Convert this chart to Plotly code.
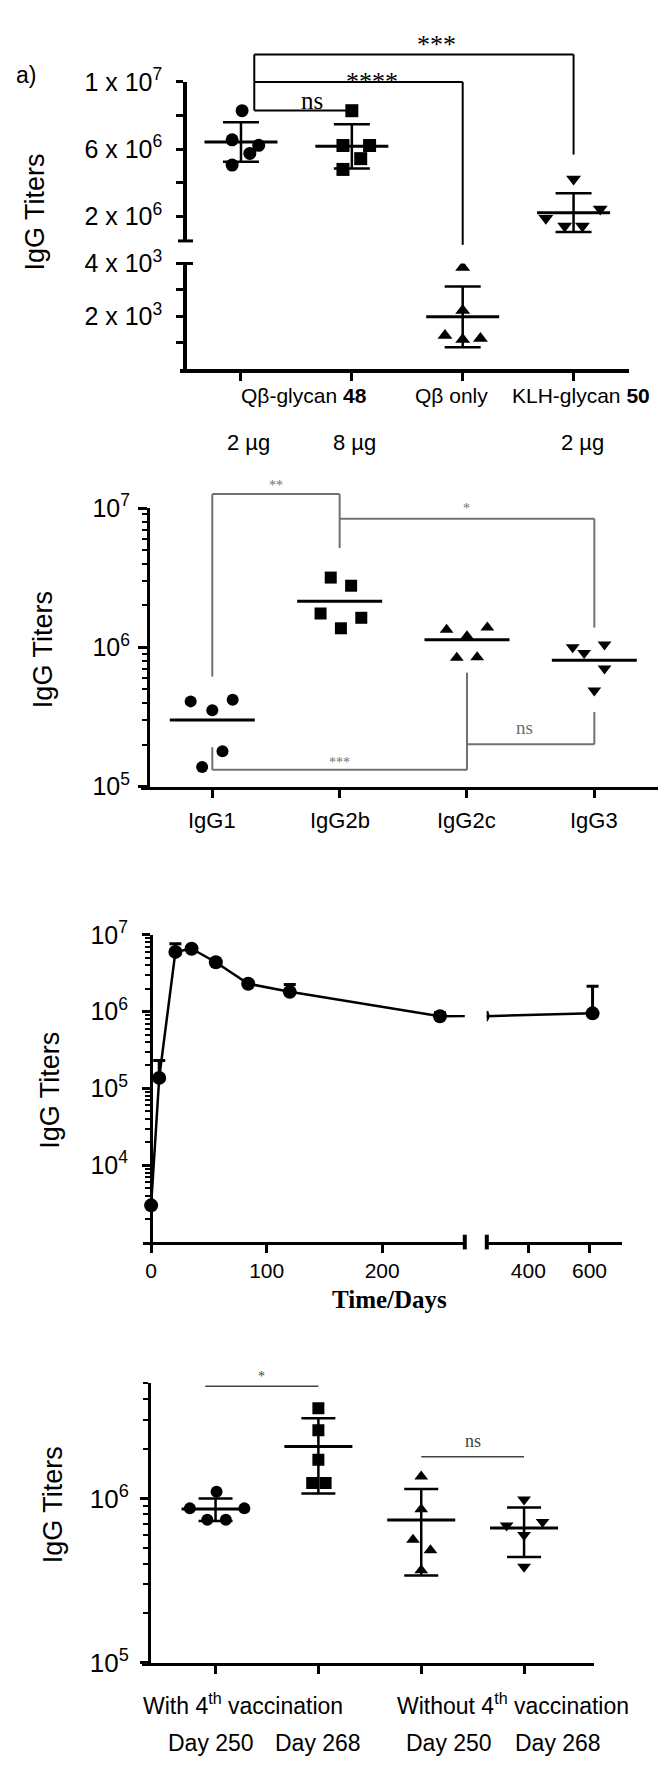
import plotly.graph_objects as go

W, H = 666, 1768

# ---------------- a) total IgG, broken linear axis
a_groups = ["Qβ-glycan 48, 2 µg", "Qβ-glycan 48, 8 µg", "Qβ only", "KLH-glycan 50, 2 µg"]
a_titers = [
    [8.29e6, 6.56e6, 6.23e6, 5.75e6, 5.06e6],
    [8.29e6, 6.22e6, 6.22e6, 5.44e6, 4.80e6],
    [3850, 2230, 1280, 1130, 1170],
    [4.23e6, 2.44e6, 1.89e6, 1.43e6, 1.43e6],
]
a_jitter = [
    [0.01, -0.08, 0.16, 0.08, -0.08],
    [0.0, -0.08, 0.16, 0.08, -0.08],
    [0.0, 0.0, -0.16, 0.0, 0.16],
    [0.0, 0.24, -0.25, -0.08, 0.08],
]
a_mean = [6.43e6, 6.17e6, 1985, 2.23e6]
a_sd = [1.17e6, 1.31e6, 1150, 1.15e6]
a_names = ["Qβ-glycan <b>48</b>", "Qβ only", "KLH-glycan <b>50</b>"]
a_doses = ["2 µg", "8 µg", "2 µg"]

# ---------------- b) IgG subclasses
b_subclass = ["IgG1", "IgG2b", "IgG2c", "IgG3"]
b_titers = [
    [4.09e5, 3.53e5, 4.20e5, 1.79e5, 1.38e5],
    [3.17e6, 2.77e6, 1.75e6, 1.63e6, 1.37e6],
    [1.34e6, 1.20e6, 1.39e6, 8.4e5, 8.5e5],
    [1.00e6, 9.1e5, 1.05e6, 7.05e5, 4.9e5],
]
b_jitter = [
    [-0.17, 0.0, 0.16, 0.08, -0.08],
    [-0.07, 0.09, -0.15, 0.17, 0.01],
    [-0.16, 0.0, 0.16, -0.08, 0.08],
    [-0.17, -0.08, 0.08, 0.08, 0.0],
]
b_mean = [3.0e5, 2.14e6, 1.135e6, 8.07e5]

# ---------------- c) time course
c_days = [0, 7, 21, 35, 56, 84, 120, 250, 610]
c_titer = [2.99e3, 1.37e5, 6.0e6, 6.6e6, 4.4e6, 2.31e6, 1.81e6, 8.7e5, 9.5e5]
c_err_up = [0, 9.4e4, 1.66e6, 3.0e5, 2.0e5, 1.5e5, 4.4e5, 1.0e5, 1.19e6]

# ---------------- d) with / without 4th vaccination
d_groups = ["With 4<sup>th</sup> vaccination", "Without 4<sup>th</sup> vaccination"]
d_days = ["Day 250", "Day 268", "Day 250", "Day 268"]
d_titers = [
    [1.097e6, 8.7e5, 8.7e5, 7.41e5, 7.41e5],
    [3.53e6, 2.60e6, 1.72e6, 1.24e6, 1.24e6],
    [1.36e6, 8.6e5, 5.6e5, 4.84e5, 3.66e5],
    [9.86e5, 6.84e5, 7.2e5, 6.0e5, 3.84e5],
]
d_jitter = [
    [0.01, -0.25, 0.28, -0.08, 0.10],
    [0.0, 0.0, 0.0, -0.06, 0.07],
    [0.0, 0.0, -0.08, 0.09, 0.0],
    [0.0, -0.17, 0.18, 0.0, 0.0],
]
d_mean = [8.63e5, 2.07e6, 7.4e5, 6.6e5]
d_sd = [1.35e5, 1.0e6, 4.0e5, 2.2e5]

SYMBOLS = ["circle", "square", "triangle-up", "triangle-down"]
SANS = "Liberation Sans, Arial, sans-serif"
SERIF = "Liberation Serif, Times New Roman, serif"


def fx(p):
    return p / W


def fy(p):
    return 1 - p / H


fig = go.Figure()


def dots(xa, ya, i, vals, jit, size=12):
    fig.add_trace(go.Scatter(
        x=[i + j for j in jit], y=vals, xaxis=xa, yaxis=ya, mode="markers",
        marker=dict(symbol=SYMBOLS[i], size=size, color="black", line=dict(width=0)),
        hoverinfo="skip", showlegend=False))


def mean_bar(xa, ya, i, mean, sd, length, cap):
    err = dict(type="data", array=[sd], width=cap, thickness=2.5, color="black") if sd else None
    fig.add_trace(go.Scatter(
        x=[i], y=[mean], xaxis=xa, yaxis=ya, mode="markers",
        marker=dict(symbol="line-ew", size=length / 1.4, line=dict(width=3, color="black")),
        error_y=err, hoverinfo="skip", showlegend=False))


def seg(xref, x0, x1, y0, y1, color="black", width=2):
    if xref == "paper":
        x0, x1 = fx(x0), fx(x1)
    fig.add_shape(type="line", xref=xref, yref="paper", x0=x0, x1=x1,
                  y0=fy(y0), y1=fy(y1), line=dict(color=color, width=width))


def text(s, x, y, xref="paper", size=20, family=SANS, color="black", angle=0):
    if xref == "paper":
        x = fx(x)
    fig.add_annotation(text=s, x=x, y=fy(y), xref=xref, yref="paper", showarrow=False,
                       xanchor="center", yanchor="middle", textangle=angle,
                       font=dict(family=family, size=size, color=color))


# ---- panel a
for i in range(4):
    ya = "y2" if i == 2 else "y"
    dots("x", ya, i, a_titers[i], a_jitter[i], size=13)
    mean_bar("x", ya, i, a_mean[i], a_sd[i], 73, 18)

# ---- panel b
for i in range(4):
    dots("x2", "y3", i, b_titers[i], b_jitter[i], size=12)
    mean_bar("x2", "y3", i, b_mean[i], None, 85, 0)

# ---- panel c (drawn on both halves of the broken x axis)
for xa in ["x3", "x4"]:
    fig.add_trace(go.Scatter(
        x=c_days, y=c_titer, xaxis=xa, yaxis="y4", mode="lines+markers",
        line=dict(color="black", width=2.5),
        marker=dict(symbol="circle", size=14, color="black"),
        error_y=dict(type="data", symmetric=False, array=c_err_up,
                     arrayminus=[0] * len(c_days), width=6, thickness=3, color="black"),
        hoverinfo="skip", showlegend=False))

# ---- panel d
for i in range(4):
    dots("x5", "y5", i, d_titers[i], d_jitter[i], size=12)
    mean_bar("x5", "y5", i, d_mean[i], d_sd[i], 68, 17)


def ax(**kw):
    base = dict(showgrid=False, zeroline=False, showline=True, linecolor="black",
                linewidth=3, ticks="outside", tickcolor="black", tickwidth=2.5, ticklen=8,
                tickfont=dict(family=SANS, size=20, color="black"))
    base.update(kw)
    return base


def minor(vals):
    return dict(tickvals=vals, ticks="outside", ticklen=5, tickwidth=2, tickcolor="black")


def sup(e):
    return "10<sup>%d</sup>" % e


def tf(size):
    return dict(family=SANS, size=size, color="black")


fig.update_layout(
    width=W, height=H, autosize=False, margin=dict(l=0, r=0, t=0, b=0),
    paper_bgcolor="white", plot_bgcolor="white", showlegend=False,
    font=dict(family=SANS, color="black"),
    # a
    xaxis=ax(domain=[fx(172), fx(621)], range=[-0.55, 3.5], anchor="y2",
             tickvals=[0, 1, 2, 3], showticklabels=False, linewidth=3.5, tickwidth=3),
    yaxis=ax(domain=[fy(219), fy(57)], range=[5.5e5, 1.0e7], anchor="free", position=fx(177),
             tickvals=[2e6, 4e6, 6e6, 8e6, 1e7],
             ticktext=["2 x 10<sup>6</sup>", "", "6 x 10<sup>6</sup>", "", "1 x 10<sup>7</sup>"],
             linewidth=3.5, ticklen=7, tickwidth=3, ticklabelstandoff=9, tickfont=tf(25)),
    yaxis2=ax(domain=[fy(350), fy(242)], range=[0, 4000], anchor="free", position=fx(177),
              tickvals=[1000, 2000, 3000, 4000],
              ticktext=["", "2 x 10<sup>3</sup>", "", "4 x 10<sup>3</sup>"],
              linewidth=3.5, ticklen=7, tickwidth=3, ticklabelstandoff=9, tickfont=tf(25)),
    # b
    xaxis2=ax(domain=[fx(133), fx(650)], range=[-0.56, 3.5], anchor="y3",
              tickvals=[0, 1, 2, 3], showticklabels=False),
    yaxis3=ax(type="log", domain=[fy(775), fy(491)], range=[5, 7.002], anchor="free",
              position=fx(140), tickvals=[1e5, 1e6, 1e7], ticktext=[sup(5), sup(6), sup(7)],
              ticklen=9, ticklabelstandoff=3, tickfont=tf(25),
              minor=minor([m * 10 ** e for e in (5, 6) for m in range(2, 10)])),
    # c
    xaxis3=ax(domain=[fx(134.7), fx(456.8)], range=[-7.3, 271.5], anchor="y4",
              tickvals=[0, 100, 200], tickfont=tf(21)),
    xaxis4=ax(domain=[fx(478.8), fx(613.6)], range=[264, 705], anchor="y4",
              tickvals=[400, 600], tickfont=tf(21)),
    yaxis4=ax(type="log", domain=[fy(1239), fy(926)], range=[3, 7.002], anchor="free",
              position=fx(143), tickvals=[1e4, 1e5, 1e6, 1e7],
              ticktext=[sup(4), sup(5), sup(6), sup(7)], ticklabelstandoff=9, tickfont=tf(25),
              minor=minor([m * 10 ** e for e in (3, 4, 5, 6) for m in range(2, 10)])),
    # d
    xaxis5=ax(domain=[fx(133.5), fx(586)], range=[-0.72, 3.68], anchor="y5",
              tickvals=[0, 1, 2, 3], showticklabels=False),
    yaxis5=ax(type="log", domain=[fy(1668), fy(1383.3)], range=[5, 6.699], anchor="free",
              position=fx(141), tickvals=[1e5, 1e6], ticktext=[sup(5), sup(6)],
              ticklabelstandoff=6, tickfont=tf(26),
              minor=minor([m * 1e5 for m in range(2, 10)] + [m * 1e6 for m in range(2, 6)])),
)

# ---- panel a decorations
text("a)", 18, 50, size=23)
text("IgG Titers", 27, 190, size=27, angle=-90)
seg("paper", 170, 185, 219, 219, width=3)
seg("paper", 170, 185, 242, 242, width=3)
seg("x", 0.12, 0.12, 29, 86)
seg("x", 0.12, 3.0, 29, 29)
seg("x", 3.0, 3.0, 29, 131)
seg("x", 0.12, 2.0, 57, 57)
seg("x", 2.0, 2.0, 57, 223)
seg("x", 0.12, 1.0, 86, 86)
text("***", 1.76, 19, xref="x", size=26, family=SERIF)
text("****", 1.18, 57, xref="x", size=26, family=SERIF)
text("ns", 0.64, 76, xref="x", size=25, family=SERIF)
for s, x in zip(a_names, [0.57, 1.9, 3.07]):
    text(s, x, 377, xref="x", size=21)
for s, x in zip(a_doses, [0.07, 1.02, 3.08]):
    text(s, x, 424, xref="x", size=22)

# ---- panel b decorations
GREY = "#707070"
text("IgG Titers", 35, 636, size=27, angle=-90)
seg("x2", 0, 0, 477, 663, GREY)
seg("x2", 0, 1, 477, 477, GREY)
seg("x2", 1, 1, 477, 532, GREY)
seg("x2", 1, 3, 502, 502, GREY)
seg("x2", 3, 3, 502, 613, GREY)
seg("x2", 0, 0, 735, 758, GREY)
seg("x2", 0, 2, 758, 758, GREY)
seg("x2", 2, 2, 659, 758, GREY)
seg("x2", 2, 3, 732, 732, GREY)
seg("x2", 3, 3, 699, 732, GREY)
text("**", 0.5, 468, xref="x2", size=14, family=SERIF, color=GREY)
text("*", 2.0, 492, xref="x2", size=14, family=SERIF, color=GREY)
text("***", 1.0, 751, xref="x2", size=14, family=SERIF, color=GREY)
text("ns", 2.45, 715, xref="x2", size=19, family=SERIF, color=GREY)
for i, s in enumerate(b_subclass):
    text(s, i, 810, xref="x2", size=22)

# ---- panel c decorations
text("IgG Titers", 42, 1084, size=27, angle=-90)
seg("paper", 456.8, 456.8, 1231.7, 1246.7, width=4)
seg("paper", 478.8, 478.8, 1231.7, 1246.7, width=4)
text("<b>Time/Days</b>", 382, 1298, size=25, family=SERIF)

# ---- panel d decorations
DGREY = "#444444"
text("IgG Titers", 44.5, 1507, size=27, angle=-90)
seg("x5", -0.1, 1.0, 1386, 1386, DGREY, 1.5)
seg("x5", 2.0, 3.0, 1458, 1458, DGREY, 1.5)
text("*", 0.45, 1376, xref="x5", size=14, family=SERIF, color=DGREY)
text("ns", 2.5, 1442, xref="x5", size=18, family=SERIF, color=DGREY)
for s, x in zip(d_groups, [0.27, 2.89]):
    text(s, x, 1710, xref="x5", size=23)
for s, x in zip(d_days, [-0.045, 1.0, 2.27, 3.33]):
    text(s, x, 1750, xref="x5", size=23)

fig.write_html("out.html")
